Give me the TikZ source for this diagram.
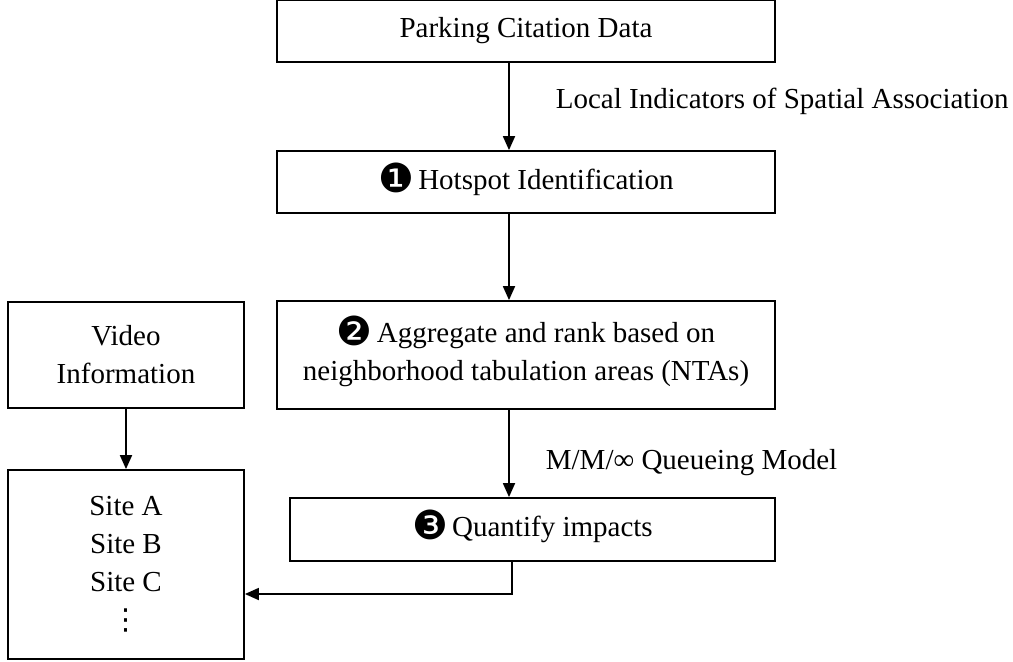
\documentclass[tikz,border=0pt]{standalone}
\usepackage{fontspec}
\setmainfont{Liberation Serif}
\newfontfamily\dingfont{DejaVu Sans}
\usetikzlibrary{arrows.meta,positioning}
\tikzset{
  box/.style  = { draw, line width=0.9pt, rectangle, align=center, inner sep=0pt,
    minimum width=249pt, minimum height=31pt },
  sidebox/.style = { box, minimum width=118pt },
  lbl/.style  = { inner sep=0pt, anchor=west },
  >={Triangle[length=7pt,width=6pt]}
}
\newcommand{\stepnum}[1]{\smash{\raisebox{-1.5pt}{\dingfont\fontsize{20}{19}\selectfont #1}}\hspace{2pt}}

\begin{document}
\begin{tikzpicture}[line width=0.9pt, on grid, font=\fontsize{14.5}{19}\selectfont]
    \useasboundingbox (0,0) rectangle (506.5pt,-330.5pt);
    \node[box] (cite) at (263pt,-15.5pt) {Parking Citation Data};
    \node[box, below=75.5pt of cite] (hot) {\stepnum{❶}Hotspot Identification};
    \node[box, below=86.5pt of hot, minimum height=54pt] (agg)
      {\stepnum{❷}Aggregate and rank based on\\neighborhood tabulation areas (NTAs)};
    \node[box, below=87.25pt of agg, xshift=3.25pt, minimum width=242.5pt,
      minimum height=31.5pt] (quant) {\stepnum{❸}Quantify impacts};
    \node[sidebox, left=200pt of agg, minimum height=53pt] (video) {Video\\Information};
    \node[sidebox, below=104.75pt of video, minimum height=94.5pt] (sites)
      {Site A\\Site B\\Site C\\{\dingfont ⋮}};

    \node[lbl] (lisa) at ([xshift=14.5pt,yshift=-19pt]cite.south)
      {Local Indicators of Spatial Association};
    \node[lbl] (mmq) at ([xshift=9.5pt,yshift=-26.5pt]agg.south)
      {M/M/∞ Queueing Model};

    \path[->] ([xshift=-8.5pt]cite.south) edge ([xshift=-8.5pt]hot.north);
    \path[->] ([xshift=-8.5pt]hot.south) edge ([xshift=-8.5pt]agg.north);
    \path[->] ([xshift=-8.5pt]agg.south) edge ([xshift=-8.5pt]agg.south |- quant.north);
    \path[->] (video) edge (sites);
    \draw[->] ([xshift=-7pt]agg.south |- quant.south) |- ([yshift=-14.75pt]sites.east);
\end{tikzpicture}
\end{document}
